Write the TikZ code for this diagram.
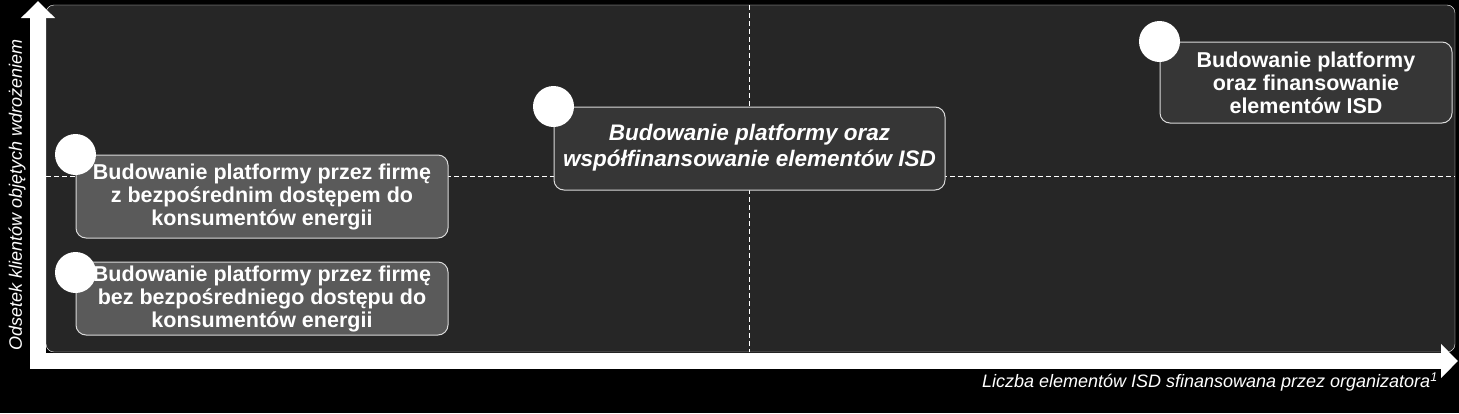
\documentclass[tikz,border=0pt]{standalone}
\usepackage{fontspec}
\setmainfont{Liberation Sans}
\usepackage{xcolor}
\usepackage{tikz}
\usetikzlibrary{arrows.meta}
\definecolor{panelgray}{HTML}{262626}
\definecolor{lightbox}{HTML}{5A5A5A}
\definecolor{darkbox}{HTML}{363636}

\begin{document}
\begin{tikzpicture}[x=1pt,y=-1pt,
    ideabox/.style={draw=white!85!black, line width=1pt, rounded corners=10pt, text=white,
        font=\bfseries\fontsize{21.5}{23}\selectfont, align=center, inner sep=0pt},
    ideadot/.style={circle, fill=white, minimum size=41pt, inner sep=0pt},
    axisarrow/.style={white, line width=16pt, line cap=rect, -{Triangle[length=17pt,width=33pt]}},
    quadline/.style={white, line width=0.8pt, dash pattern=on 5pt off 3pt},
    axistext/.style={text=white, font=\itshape\fontsize{18}{20}\selectfont, inner sep=0pt}]
    \useasboundingbox[fill=black] (0,0) rectangle (1459,413);
    % panel and quadrant lines
    \draw[white, fill=panelgray, rounded corners=8pt] (46,5) rectangle (1455,352);
    \draw[quadline] (46,176) -- (1455,176);
    \draw[quadline] (749,5) -- (749,352);
    % axes
    \coordinate (origin) at (38,361);
    \coordinate (ytop) at (38,1);
    \coordinate (xend) at (1458,361);
    \draw[axisarrow] (origin) -- (ytop);
    \draw[axisarrow] (origin) -- (xend);
    % options
    \node[ideabox, fill=lightbox, minimum width=372pt, minimum height=83pt] (firmA) at (262,196.5)
        {Budowanie platformy przez firmę\\z bezpośrednim dostępem do\\konsumentów energii};
    \node[ideabox, fill=lightbox, minimum width=372pt, minimum height=73pt] (firmB) at (262,298.5)
        {Budowanie platformy przez firmę\\bez bezpośredniego dostępu do\\konsumentów energii};
    \node[ideabox, fill=darkbox, minimum width=391pt, minimum height=83pt,
        font=\bfseries\itshape\fontsize{22.5}{25}\selectfont] (cofin) at (749.5,148.5)
        {\raisebox{6pt}{\shortstack{Budowanie platformy oraz\\[2pt]współfinansowanie elementów ISD}}};
    \node[ideabox, fill=darkbox, minimum width=292pt, minimum height=81pt] (fullfin) at (1306,82.5)
        {Budowanie platformy\\oraz finansowanie\\elementów ISD};
    \node[ideadot] (dotA) at (firmA.north west) {};
    \node[ideadot] (dotB) at ([yshift=-11pt]firmB.north west) {};
    \node[ideadot] (dotC) at (cofin.north west) {};
    \node[ideadot] (dotD) at (fullfin.north west) {};
    % axis labels
    \node[axistext, rotate=90] (ylab) at (17,195) {Odsetek klientów objętych wdrożeniem};
    \node[axistext, anchor=east] (xlab) at (1438,382)
        {Liczba elementów ISD sfinansowana przez organizatora\textsuperscript{1}};
\end{tikzpicture}
\end{document}
